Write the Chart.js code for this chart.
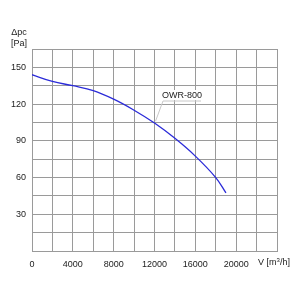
<!DOCTYPE html>
<html>
<head>
<meta charset="utf-8">
<script src="https://cdn.jsdelivr.net/npm/chart.js@4"></script>
<style>
  html, body { margin: 0; padding: 0; background: #fff; }
  #wrap { width: 300px; height: 300px; }
</style>
</head>
<body>
<div id="wrap"><canvas id="chart" width="300" height="300"></canvas></div>
<script>
// ================= DATA =================
const flow = [0, 2000, 4000, 6000, 8000, 10000, 12000, 14000, 16000, 18000, 19000];
const pressure = [144, 138.5, 135, 131, 124, 115, 104.5, 92, 77.5, 60, 47.5];
const seriesName = "OWR-800";
const xTickLabels = [0, 4000, 8000, 12000, 16000, 20000];
const yTickLabels = [30, 60, 90, 120, 150];

const FONT = "Arial, 'Liberation Sans', sans-serif";

// ================= EXTRA TEXT =================
const annotations = {
    id: "annotations",
    afterDraw(chart) {
        const ctx = chart.ctx;
        const x = chart.scales.x, y = chart.scales.y;
        ctx.save();
        ctx.fillStyle = "#222";
        ctx.font = "9px " + FONT;
        ctx.textAlign = "center";
        ctx.textBaseline = "middle";
        ctx.fillText("\u0394pc", 19, 33);
        ctx.fillText("[Pa]", 19, 44);
        ctx.textAlign = "left";
        ctx.fillText("V [m", 258, 263);
        const w = ctx.measureText("V [m").width;
        ctx.font = "6px " + FONT;
        ctx.fillText("3", 258 + w, 260);
        ctx.font = "9px " + FONT;
        ctx.fillText("/h]", 258 + w + 3.5, 263);

        // series label with leader line
        const px = x.getPixelForValue(12100), py = y.getPixelForValue(106);
        ctx.strokeStyle = "#c8c8c8";
        ctx.lineWidth = 1;
        ctx.beginPath();
        ctx.moveTo(px, py);
        ctx.lineTo(163, 101);
        ctx.lineTo(201, 101);
        ctx.stroke();
        ctx.fillStyle = "#fff";
        ctx.fillRect(163, 90, 39, 10);
        ctx.fillStyle = "#222";
        ctx.textAlign = "center";
        ctx.fillText(seriesName, 182, 96);
        ctx.restore();
    }
};

new Chart(document.getElementById("chart"), {
    type: "line",
    data: {
        datasets: [{
            label: seriesName,
            data: flow.map((v, i) => ({ x: v, y: pressure[i] })),
            borderColor: "#2b2bd8",
            borderWidth: 1.3,
            pointRadius: 0,
            tension: 0.4,
            fill: false
        }]
    },
    options: {
        responsive: false,
        animation: false,
        layout: { padding: { top: 49, right: 23, left: 0, bottom: 0 } },
        plugins: { legend: { display: false }, tooltip: { enabled: false } },
        scales: {
            x: {
                type: "linear",
                min: 0,
                max: 24000,
                afterFit: s => { s.height = 49; },
                afterBuildTicks: s => {
                    s.ticks = [];
                    for (let v = 0; v <= 24000; v += 2000) s.ticks.push({ value: v });
                },
                grid: { color: "#9a9a9a", lineWidth: 1, drawTicks: false },
                border: { color: "#9a9a9a" },
                ticks: {
                    padding: 8,
                    maxRotation: 0,
                    autoSkip: false,
                    color: "#222",
                    font: { family: FONT, size: 9 },
                    callback: v => xTickLabels.includes(v) ? String(v) : ""
                }
            },
            y: {
                min: 0,
                max: 165,
                afterFit: s => { s.width = 32; },
                afterBuildTicks: s => {
                    s.ticks = [];
                    for (let v = 0; v <= 165; v += 15) s.ticks.push({ value: v });
                },
                grid: { color: "#9a9a9a", lineWidth: 1, drawTicks: false },
                border: { color: "#9a9a9a" },
                ticks: {
                    padding: 6,
                    autoSkip: false,
                    color: "#222",
                    font: { family: FONT, size: 9 },
                    callback: v => yTickLabels.includes(v) ? String(v) : ""
                }
            }
        }
    },
    plugins: [annotations]
});
</script>
</body>
</html>
